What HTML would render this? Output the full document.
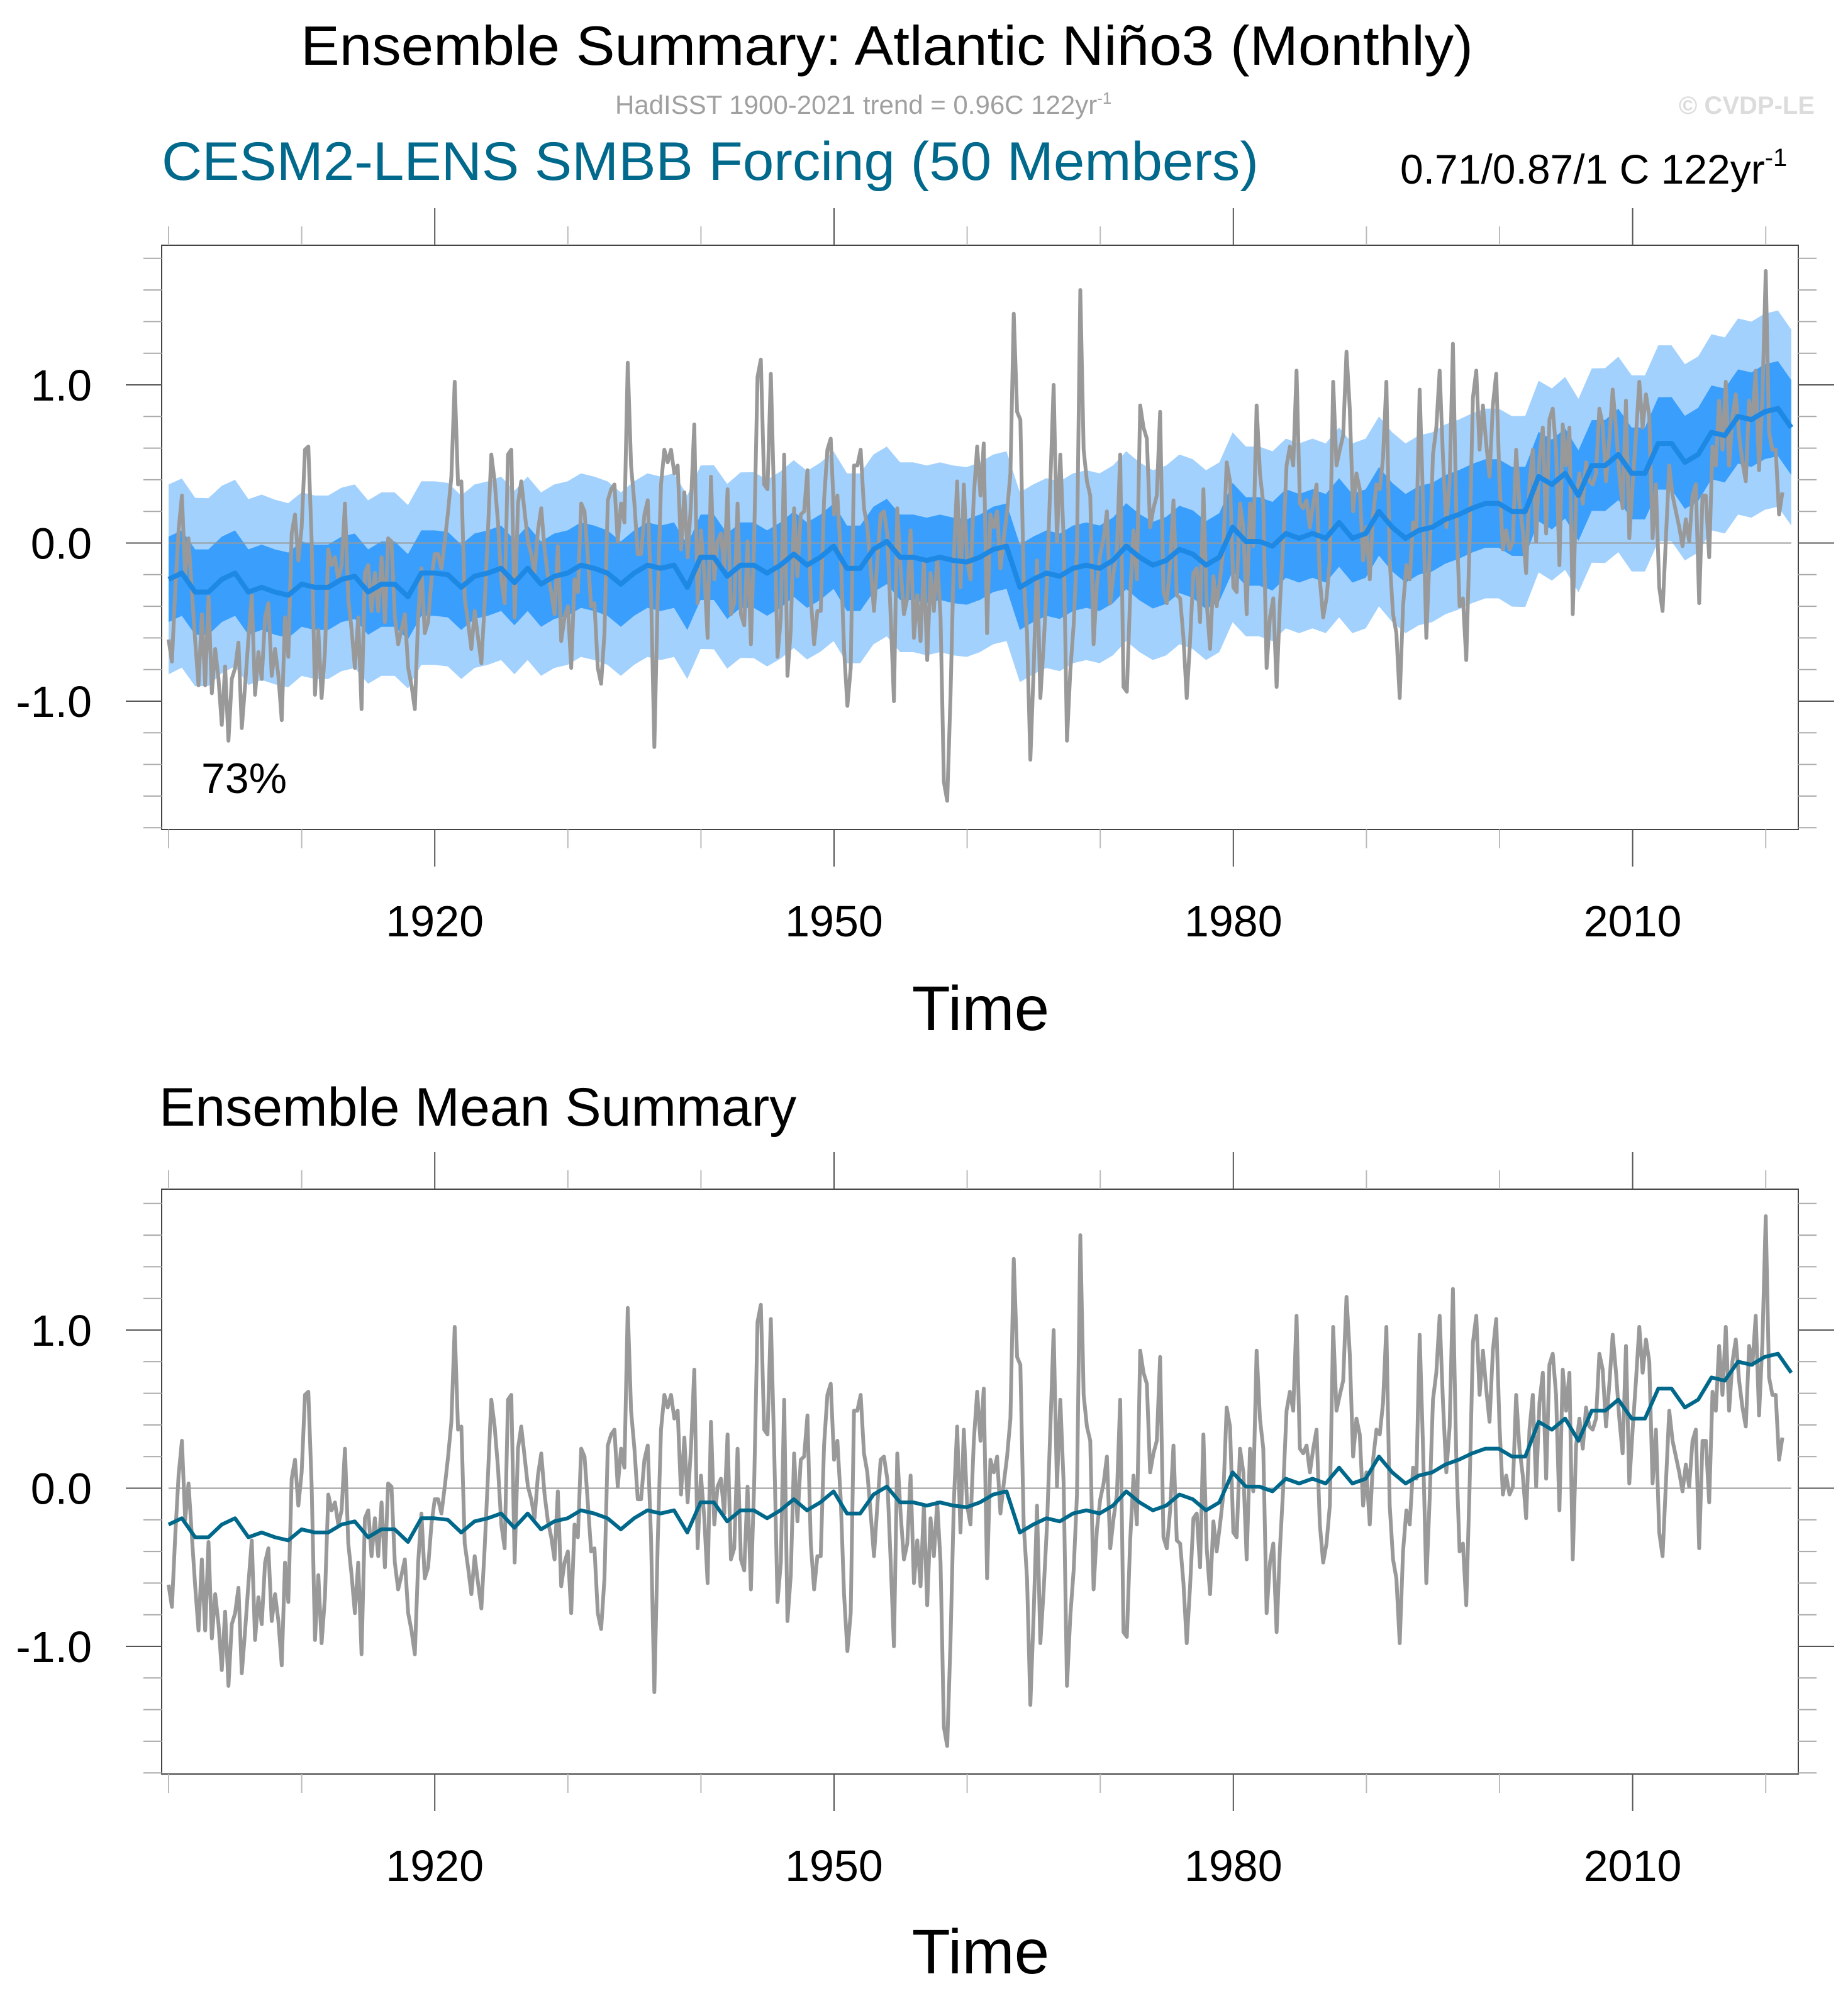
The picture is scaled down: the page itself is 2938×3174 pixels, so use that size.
<!DOCTYPE html>
<html><head><meta charset="utf-8">
<style>
html,body{margin:0;padding:0;background:#fff;}
svg{display:block;font-family:"Liberation Sans",Arial,sans-serif;}
</style></head>
<body>
<svg id="fig" width="2938" height="3174" viewBox="0 0 2938 3174" xmlns="http://www.w3.org/2000/svg">
<rect x="0" y="0" width="2938" height="3174" fill="#fff"/>
<text x="478" y="103" font-size="88" textLength="1864" lengthAdjust="spacingAndGlyphs">Ensemble Summary: Atlantic Niño3 (Monthly)</text>
<text x="978" y="181" font-size="42" fill="#a0a0a0">HadISST 1900-2021 trend = 0.96C 122yr<tspan dy="-16" font-size="26">-1</tspan></text>
<text x="2885" y="181" font-size="40" font-weight="bold" fill="#dcdcdc" text-anchor="end">© CVDP-LE</text>
<text x="257" y="286" font-size="86" fill="#00698c" textLength="1744" lengthAdjust="spacingAndGlyphs">CESM2-LENS SMBB Forcing (50 Members)</text>
<text x="2226" y="292" font-size="66">0.71/0.87/1 C 122yr<tspan dy="-28" font-size="40">-1</tspan></text>
<text x="320" y="1261" font-size="68">73%</text>
<text x="253" y="1790" font-size="86">Ensemble Mean Summary</text>
<g id="p1"></g>
<g id="p2"></g>
</svg>
<script>
// HadISST observations, quarterly samples starting 1900.0
const obsValues = [
-0.61,-0.75,-0.3,0.08,0.3,-0.2,0.03,-0.3,-0.62,-0.9,-0.45,-0.9,-0.34,-0.95,-0.67,-0.86,-1.15,-0.78,-1.25,-0.86,
-0.79,-0.63,-1.17,-0.9,-0.6,-0.33,-0.96,-0.69,-0.86,-0.47,-0.38,-0.84,-0.67,-0.84,-1.12,-0.47,-0.72,0.06,0.18,-0.11,
0.1,0.59,0.61,0.01,-0.96,-0.55,-0.98,-0.69,-0.04,-0.14,-0.09,-0.23,-0.14,0.25,-0.35,-0.55,-0.79,-0.47,-1.05,-0.19,
-0.14,-0.43,-0.19,-0.43,-0.09,-0.5,0.03,0.01,-0.47,-0.64,-0.55,-0.45,-0.79,-0.9,-1.05,-0.47,-0.16,-0.57,-0.5,-0.23,
-0.07,-0.07,-0.16,0.01,0.2,0.42,1.02,0.37,0.39,-0.35,-0.5,-0.67,-0.43,-0.6,-0.76,-0.38,0.08,0.56,0.39,0.13,
-0.23,-0.38,0.56,0.59,-0.47,0.25,0.39,0.2,0.01,-0.07,-0.19,0.08,0.22,-0.04,-0.21,-0.31,-0.45,-0.02,-0.62,-0.47,
-0.4,-0.79,-0.23,-0.31,0.25,0.2,-0.09,-0.4,-0.38,-0.79,-0.89,-0.57,0.27,0.34,0.37,0.01,0.25,0.13,1.14,0.49,
0.25,-0.07,-0.07,0.18,0.27,-0.31,-1.29,-0.35,0.37,0.59,0.51,0.59,0.44,0.49,-0.04,0.32,-0.09,0.25,0.75,-0.38,
0.08,-0.19,-0.6,0.42,-0.23,0.01,0.06,-0.16,0.34,-0.45,-0.38,0.25,-0.45,-0.52,0.01,-0.64,0.03,1.05,1.16,0.37,
0.34,1.07,0.25,-0.72,-0.47,0.56,-0.84,-0.55,0.22,-0.21,0.18,0.2,0.46,-0.35,-0.64,-0.43,-0.43,0.27,0.59,0.66,
0.18,0.3,-0.07,-0.67,-1.03,-0.79,0.49,0.49,0.59,0.22,0.1,-0.16,-0.43,-0.11,0.18,0.2,0.06,-0.45,-1.0,0.22,
-0.16,-0.45,-0.35,0.08,-0.6,-0.33,-0.62,-0.11,-0.74,-0.19,-0.43,-0.09,-0.47,-1.51,-1.63,-0.96,-0.09,0.39,-0.28,0.37,
-0.11,-0.23,0.3,0.61,0.3,0.63,-0.57,0.18,0.1,0.2,-0.16,0.03,0.2,0.44,1.45,0.83,0.78,-0.23,-0.57,-1.37,
-0.79,-0.11,-0.98,-0.64,-0.23,0.37,1.0,0.01,0.56,0.03,-1.25,-0.81,-0.52,-0.04,1.6,0.59,0.39,0.3,-0.64,-0.26,
-0.07,0.03,0.2,-0.38,-0.19,-0.04,0.56,-0.91,-0.94,-0.33,0.08,-0.23,0.87,0.73,0.66,0.1,0.22,0.3,0.83,-0.31,
-0.38,-0.14,0.27,-0.33,-0.35,-0.6,-0.98,-0.62,-0.19,-0.16,-0.5,0.34,-0.38,-0.67,-0.21,-0.4,-0.23,-0.04,0.51,0.39,
-0.28,-0.31,0.25,0.1,-0.45,0.25,-0.02,0.87,0.44,0.25,-0.79,-0.47,-0.35,-0.91,-0.38,0.01,0.49,0.61,0.49,1.09,
0.25,0.22,0.27,0.1,0.25,0.37,-0.23,-0.47,-0.35,-0.11,1.02,0.49,0.59,0.68,1.21,0.85,0.2,0.44,0.34,-0.11,
0.1,-0.23,0.18,0.37,0.34,0.54,1.02,-0.11,-0.45,-0.57,-0.98,-0.4,-0.14,-0.23,0.13,0.06,0.97,0.27,-0.6,-0.07,
0.56,0.73,1.09,0.54,0.1,0.39,1.26,0.2,-0.4,-0.35,-0.74,0.01,0.92,1.09,0.59,0.87,0.63,0.42,0.87,1.07,
0.39,-0.04,0.08,-0.04,0.01,0.59,0.25,0.08,-0.19,0.37,0.59,0.01,0.54,0.73,0.06,0.78,0.85,0.59,-0.14,0.75,
0.49,0.73,-0.45,0.27,0.44,0.25,0.51,0.39,0.37,0.44,0.85,0.75,0.39,0.66,0.97,0.73,0.44,0.22,0.9,0.03,
0.37,0.68,1.02,0.73,0.94,0.8,0.03,0.37,-0.28,-0.43,0.03,0.49,0.3,0.2,0.1,-0.02,0.15,0.01,0.3,0.37,
-0.38,0.3,0.3,-0.09,0.61,0.49,0.9,0.59,1.02,0.49,0.8,0.94,0.68,0.51,0.39,0.9,0.78,1.09,0.46,0.92,
1.72,0.7,0.59,0.59,0.18,0.32];
const obsStart = 1900;
const obsStep = 0.25;
// CESM2 ensemble mean, annual samples 1900..2021 (+ final month)
const ensMean = [
-0.23,-0.19,-0.31,-0.31,-0.23,-0.19,-0.31,-0.28,-0.31,-0.33,-0.26,-0.28,-0.28,-0.23,-0.21,-0.31,-0.26,-0.26,-0.34,-0.19,
-0.19,-0.2,-0.28,-0.21,-0.19,-0.16,-0.25,-0.16,-0.26,-0.21,-0.19,-0.14,-0.16,-0.19,-0.26,-0.19,-0.14,-0.16,-0.14,-0.28,
-0.09,-0.09,-0.21,-0.14,-0.14,-0.19,-0.14,-0.07,-0.14,-0.09,-0.02,-0.16,-0.16,-0.04,0.01,-0.09,-0.09,-0.11,-0.09,-0.11,
-0.12,-0.09,-0.04,-0.02,-0.28,-0.23,-0.19,-0.21,-0.16,-0.14,-0.16,-0.11,-0.02,-0.09,-0.14,-0.11,-0.04,-0.07,-0.14,-0.09,
0.1,0.01,0.01,-0.02,0.06,0.03,0.06,0.03,0.13,0.03,0.06,0.2,0.1,0.03,0.08,0.1,0.15,0.18,0.22,0.25,
0.25,0.2,0.2,0.42,0.37,0.44,0.3,0.49,0.49,0.56,0.44,0.44,0.63,0.63,0.51,0.56,0.7,0.68,0.8,0.78,
0.83,0.85,0.73];
const ensStart = 1900;
const ensEnd = 2021.92;
// ensemble spread half-widths per decade (1900..2020)
const spreadDecades = [1900,1910,1920,1930,1940,1950,1960,1970,1980,1990,2000,2010,2020];
const innerHalf = [0.27,0.27,0.27,0.27,0.27,0.27,0.27,0.27,0.28,0.28,0.28,0.29,0.3];
const outerHalf = [0.6,0.58,0.58,0.58,0.58,0.6,0.6,0.6,0.6,0.6,0.6,0.62,0.62];
const yTickVals = [-1, 0, 1];
const yTickLabels = ["-1.0","0.0","1.0"];
const xMajorYears = [1920,1950,1980,2010];
const xMajorLabels = ["1920","1950","1980","2010"];
const xMinorYears = [1900,1910,1930,1940,1960,1970,1990,2000,2020];

const NS = "http://www.w3.org/2000/svg";
const BOX_L = 257, BOX_R = 2859;
function X(year){ return 268 + (year - 1900) * 21.16; }
function mk(tag, attrs, parent){
  const e = document.createElementNS(NS, tag);
  for (const k in attrs) e.setAttribute(k, attrs[k]);
  parent.appendChild(e);
  return e;
}
function halfAt(arr, t){
  const i = Math.min(arr.length - 2, Math.max(0, Math.floor((t - 1900) / 10)));
  const f = Math.min(1, Math.max(0, (t - spreadDecades[i]) / 10));
  return arr[i] * (1 - f) + arr[i + 1] * f;
}
function ensTime(i){ return ensStart + i * (ensEnd - ensStart) / (ensMean.length - 1); }

function drawPanel(g, top, bottom, zeroY, withBands, meanColor, meanWidth, xlabBase, timeBase){
  const unit = 251.5;
  const Y = v => zeroY - v * unit;
  if (withBands) {
    const outerPts = [], outerLow = [], innerPts = [], innerLow = [];
    ensMean.forEach((m, i) => {
      const t = ensTime(i);
      outerPts.push(X(t).toFixed(1) + "," + Y(m + halfAt(outerHalf, t)).toFixed(1));
      outerLow.unshift(X(t).toFixed(1) + "," + Y(m - halfAt(outerHalf, t)).toFixed(1));
      innerPts.push(X(t).toFixed(1) + "," + Y(m + halfAt(innerHalf, t)).toFixed(1));
      innerLow.unshift(X(t).toFixed(1) + "," + Y(m - halfAt(innerHalf, t)).toFixed(1));
    });
    const ob = mk("polygon", {points: outerPts.concat(outerLow).join(" "), fill: "#a3d1fd"}, g);
    
    
    const ib = mk("polygon", {points: innerPts.concat(innerLow).join(" "), fill: "#3a9ffc"}, g);
    
    
  }
  const zl = mk("line", {x1: X(1900), x2: X(2021.92), y1: Y(0), y2: Y(0), stroke: "#999", "stroke-width": 2}, g);
  
  
  const op = obsValues.map((v, i) => X(obsStart + i * obsStep).toFixed(1) + "," + Y(v).toFixed(1)).join(" ");
  const ol = mk("polyline", {points: op, fill: "none", stroke: "#999999", "stroke-width": 6, "stroke-linejoin": "round"}, g);
  
  
  const mp = ensMean.map((v, i) => X(ensTime(i)).toFixed(1) + "," + Y(v).toFixed(1)).join(" ");
  const ml = mk("polyline", {points: mp, fill: "none", stroke: meanColor, "stroke-width": meanWidth, "stroke-linejoin": "round"}, g);
  
  
  const bx = mk("rect", {x: BOX_L, y: top, width: BOX_R - BOX_L, height: bottom - top, fill: "none", stroke: "#444", "stroke-width": 2}, g);
  
  
  for (let k = -9; k <= 9; k++) {
    const v = k * 0.2;
    const yy = Y(v);
    if (yy < top - 1 || yy > bottom + 1) continue;
    const major = Math.abs(v - Math.round(v)) < 1e-6;
    const len = major ? 57 : 29;
    const col = major ? "#555" : "#aaa";
    const t1 = mk("line", {x1: BOX_L - len, x2: BOX_L, y1: yy, y2: yy, stroke: col, "stroke-width": 2}, g);
    
    
    const t2 = mk("line", {x1: BOX_R, x2: BOX_R + len, y1: yy, y2: yy, stroke: col, "stroke-width": 2}, g);
    
    
  }
  yTickVals.forEach((v, i) => {
    const tl = mk("text", {x: 146, y: Y(v) + 25, "font-size": 70, "text-anchor": "end"}, g);
    tl.textContent = yTickLabels[i];
    
    
  });
  xMinorYears.forEach(yr => {
    const a = mk("line", {x1: X(yr), x2: X(yr), y1: bottom, y2: bottom + 30, stroke: "#bbb", "stroke-width": 2}, g);
    
    
    const b = mk("line", {x1: X(yr), x2: X(yr), y1: top - 30, y2: top, stroke: "#bbb", "stroke-width": 2}, g);
    
    
  });
  xMajorYears.forEach((yr, i) => {
    const a = mk("line", {x1: X(yr), x2: X(yr), y1: bottom, y2: bottom + 59, stroke: "#555", "stroke-width": 2}, g);
    
    
    const b = mk("line", {x1: X(yr), x2: X(yr), y1: top - 59, y2: top, stroke: "#555", "stroke-width": 2}, g);
    
    
    const tl = mk("text", {x: X(yr), y: xlabBase, "font-size": 70, "text-anchor": "middle"}, g);
    tl.textContent = xMajorLabels[i];
    
    
  });
  const tt = mk("text", {x: 1559, y: timeBase, "font-size": 100, "text-anchor": "middle"}, g);
  tt.textContent = "Time";
  
  
}
drawPanel(document.getElementById("p1"), 390, 1319, 863.5, true, "#1e88e5", 8, 1489, 1638);
drawPanel(document.getElementById("p2"), 1891, 2821, 2366.5, false, "#00688b", 6, 2991, 3138);
</script>
</body></html>
